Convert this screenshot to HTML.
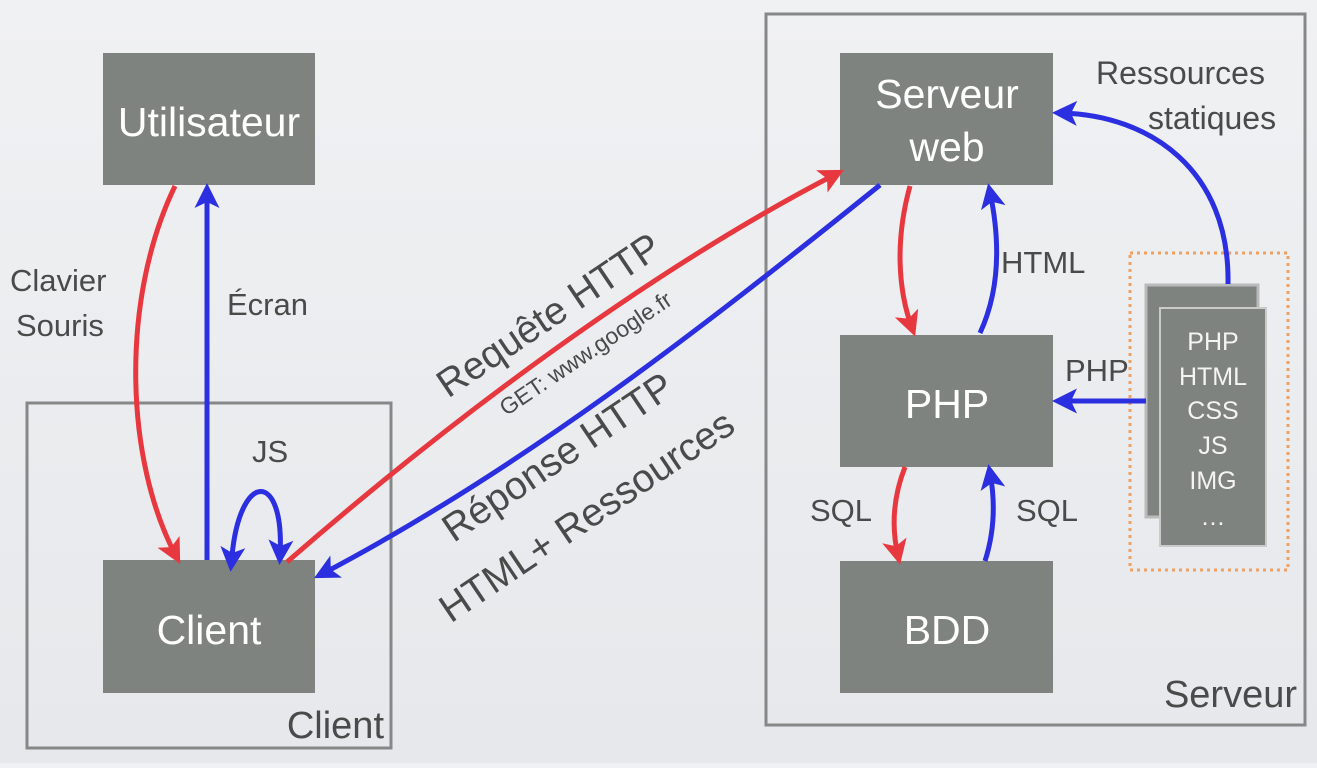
<!DOCTYPE html>
<html><head><meta charset="utf-8"><style>
html,body{margin:0;padding:0;}
body{width:1317px;height:763px;overflow:hidden;background:linear-gradient(#f0f1f3,#e6e8eb);}
svg text{font-family:"Liberation Sans",sans-serif;}
</style></head><body>
<svg width="1317" height="763" viewBox="0 0 1317 763" xmlns="http://www.w3.org/2000/svg">
<defs>
<marker id="r" markerWidth="5" markerHeight="5" refX="3.2" refY="2.5" orient="auto" markerUnits="strokeWidth"><path d="M0,0 L5,2.5 L0,5 L1.2,2.5z" fill="#e8383f"/></marker>
<marker id="b" markerWidth="5" markerHeight="5" refX="3.2" refY="2.5" orient="auto" markerUnits="strokeWidth"><path d="M0,0 L5,2.5 L0,5 L1.2,2.5z" fill="#2b2fe0"/></marker>
<marker id="bs" markerWidth="5" markerHeight="5" refX="1.8" refY="2.5" orient="auto-start-reverse" markerUnits="strokeWidth"><path d="M0,0 L5,2.5 L0,5 L1.2,2.5z" fill="#2b2fe0"/></marker>
</defs>
<rect x="27" y="403" width="364" height="345" fill="none" stroke="#858887" stroke-width="3"/>
<rect x="766" y="14" width="539" height="711" fill="none" stroke="#858887" stroke-width="3"/>
<rect x="1130" y="253" width="158" height="317" fill="none" stroke="#f0a060" stroke-width="3" stroke-dasharray="3,4"/>
<g fill="#7f8380">
<rect x="103" y="53" width="212" height="132"/>
<rect x="103" y="560" width="212" height="133"/>
<rect x="840" y="53" width="213" height="132"/>
<rect x="840" y="335" width="213" height="132"/>
<rect x="840" y="561" width="213" height="132"/>
</g>
<rect x="1146" y="285" width="112" height="232" fill="#7f8380" stroke="#b8bbba" stroke-width="3"/>
<rect x="1160" y="308" width="106" height="238" fill="#7f8380" stroke="#c8cbca" stroke-width="2"/>
<g fill="#fff" font-size="41" text-anchor="middle">
<text x="209" y="136">Utilisateur</text>
<text x="209" y="644">Client</text>
<text x="947" y="108">Serveur</text>
<text x="947" y="161">web</text>
<text x="947" y="418">PHP</text>
<text x="947" y="644">BDD</text>
</g>
<g fill="#f4f4f0" font-size="25" text-anchor="middle">
<text x="1213" y="350">PHP</text>
<text x="1213" y="385">HTML</text>
<text x="1213" y="419">CSS</text>
<text x="1213" y="454">JS</text>
<text x="1213" y="489">IMG</text>
<text x="1213" y="525">…</text>
</g>
<g fill="none" stroke-width="5">
<path d="M175,186 C120,300 125,460 176,556" stroke="#e8383f" marker-end="url(#r)"/>
<path d="M207,560 L207,192" stroke="#2b2fe0" marker-end="url(#b)"/>
<path d="M232,556 C240,470 285,470 280,556" stroke="#2b2fe0" marker-start="url(#bs)" marker-end="url(#b)"/>
<path d="M287,562 C450,420 650,270 836,174" stroke="#e8383f" marker-end="url(#r)"/>
<path d="M880,185 C700,330 520,470 322,574" stroke="#2b2fe0" marker-end="url(#b)"/>
<path d="M910,186 C895,240 898,290 912,328" stroke="#e8383f" marker-end="url(#r)"/>
<path d="M980,333 C1000,290 1000,240 990,192" stroke="#2b2fe0" marker-end="url(#b)"/>
<path d="M905,467 C892,500 892,530 898,556" stroke="#e8383f" marker-end="url(#r)"/>
<path d="M985,561 C995,530 995,500 990,473" stroke="#2b2fe0" marker-end="url(#b)"/>
<path d="M1146,401 L1061,401" stroke="#2b2fe0" marker-end="url(#b)"/>
<path d="M1228,284 C1230,170 1150,115 1061,113" stroke="#2b2fe0" marker-end="url(#b)"/>
</g>
<g fill="#4a4a4a" font-size="31">
<text x="10" y="291">Clavier</text>
<text x="16" y="336">Souris</text>
<text x="227" y="315">Écran</text>
<text x="252" y="462">JS</text>
<text x="1001" y="273">HTML</text>
<text x="1065" y="381">PHP</text>
<text x="810" y="521">SQL</text>
<text x="1016" y="521">SQL</text>
<text x="1096" y="84" font-size="32">Ressources</text>
<text x="1148" y="129" font-size="32">statiques</text>
<text x="384" y="738" font-size="38" text-anchor="end">Client</text>
<text x="1297" y="707" font-size="38" text-anchor="end">Serveur</text>
</g>
<g fill="#4a4a4a" text-anchor="middle">
<text x="0" y="0" font-size="39" transform="translate(556,326) rotate(-34)">Requête HTTP</text>
<text x="0" y="0" font-size="23" transform="translate(590,360) rotate(-34)">GET: www.google.fr</text>
<text x="0" y="0" font-size="39" transform="translate(565,468) rotate(-34)">Réponse HTTP</text>
<text x="0" y="0" font-size="39" transform="translate(594,527) rotate(-34)">HTML+ Ressources</text>
</g>
</svg>
</body></html>
